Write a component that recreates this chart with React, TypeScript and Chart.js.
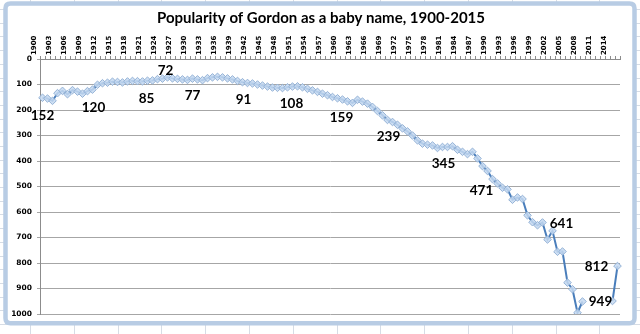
import React, { useEffect, useRef } from "react";
import { Chart, registerables } from "chart.js";

Chart.register(...registerables);

const TITLE = "Popularity of Gordon as a baby name, 1900-2015";

const YEARS: number[] = [];
for (let y = 1900; y <= 2015; y++) YEARS.push(y);

// Rank by year (null = outside the top 1000)
const RANK_1900s = [152, 155, 164, 134, 125, 138, 122, 128, 136, 126];
const RANK_1910s = [120, 101, 95, 93, 89, 90, 92, 88, 86, 87];
const RANK_1920s = [88, 85, 84, 79, 77, 72, 76, 78, 80, 82];
const RANK_1930s = [77, 80, 83, 75, 72, 70, 72, 76, 80, 86];
const RANK_1940s = [91, 94, 96, 100, 104, 108, 112, 113, 114, 111];
const RANK_1950s = [108, 107, 111, 117, 123, 129, 136, 142, 149, 154];
const RANK_1960s = [159, 166, 172, 160, 167, 175, 188, 204, 221, 239];
const RANK_1970s = [247, 258, 272, 284, 300, 319, 332, 336, 339, 349];
const RANK_1980s = [345, 345, 342, 356, 364, 373, 364, 390, 420, 439];
const RANK_1990s = [471, 488, 505, 511, 552, 543, 549, 613, 640, 652];
const RANK_2000s: (number | null)[] = [641, 708, 674, 756, 755, 877, 903, 995, 951, null];
const RANK_2010s: (number | null)[] = [null, null, null, null, 949, 812];

const RANKS: (number | null)[] = [
  ...RANK_1900s, ...RANK_1910s, ...RANK_1920s, ...RANK_1930s, ...RANK_1940s,
  ...RANK_1950s, ...RANK_1960s, ...RANK_1970s, ...RANK_1980s, ...RANK_1990s,
  ...RANK_2000s, ...RANK_2010s,
];

const LABELED_YEARS = [1900, 1910, 1921, 1925, 1930, 1940, 1950, 1960, 1969, 1980, 1990, 2000, 2014, 2015];

const Y_TICKS = [0, 100, 200, 300, 400, 500, 600, 700, 800, 900, 1000];

// label placement relative to its point (text centre offset)
const LABEL_OFFSET: Record<number, [number, number]> = {
  1900: [0, 18], 1910: [1, 18], 1921: [-1, 18], 1925: [-2, -7], 1930: [0, 17],
  1940: [1, 17], 1950: [-1, 17.5], 1960: [-1, 18], 1969: [1, 17], 1980: [1, 17],
  1990: [-11, 12], 2000: [19, 1], 2014: [-12, 0.5], 2015: [-21, 1],
};

const backgroundPlugin = {
  id: "excelBackground",
  beforeDraw(chart: any) {
    const ctx = chart.ctx;
    const w = chart.width, h = chart.height;
    ctx.save();
    ctx.fillStyle = "#ffffff";
    ctx.fillRect(0, 0, w, h);
    ctx.strokeStyle = "#d6dce5";
    ctx.lineWidth = 1;
    for (let x = 30; x < w; x += 43.8) {
      ctx.beginPath(); ctx.moveTo(Math.round(x) + 0.5, 0); ctx.lineTo(Math.round(x) + 0.5, h); ctx.stroke();
    }
    for (let y = 9; y < h; y += 13.7) {
      ctx.beginPath(); ctx.moveTo(0, Math.round(y) + 0.5); ctx.lineTo(w, Math.round(y) + 0.5); ctx.stroke();
    }
    // chart frame
    ctx.fillStyle = "#ffffff";
    ctx.strokeStyle = "#b8cce4";
    ctx.lineWidth = 4.5;
    const x0 = 5.5, y0 = 3.5, x1 = 634.5, y1 = 323.2, r = 5;
    ctx.beginPath();
    ctx.moveTo(x0 + r, y0);
    ctx.lineTo(x1 - r, y0); ctx.quadraticCurveTo(x1, y0, x1, y0 + r);
    ctx.lineTo(x1, y1 - r); ctx.quadraticCurveTo(x1, y1, x1 - r, y1);
    ctx.lineTo(x0 + r, y1); ctx.quadraticCurveTo(x0, y1, x0, y1 - r);
    ctx.lineTo(x0, y0 + r); ctx.quadraticCurveTo(x0, y0, x0 + r, y0);
    ctx.closePath();
    ctx.fill();
    ctx.stroke();
    // title
    ctx.fillStyle = "#000000";
    ctx.font = "bold 15px Lato";
    ctx.textAlign = "center";
    ctx.textBaseline = "middle";
    ctx.fillText(TITLE, 321, 18);
    ctx.restore();
  },
};

const labelPlugin = {
  id: "valueLabels",
  afterDatasetsDraw(chart: any) {
    const ctx = chart.ctx;
    const meta = chart.getDatasetMeta(0);
    ctx.save();
    ctx.font = "bold 13.5px Lato";
    ctx.fillStyle = "#000000";
    ctx.textAlign = "center";
    ctx.textBaseline = "middle";
    LABELED_YEARS.forEach((yr) => {
      const i = YEARS.indexOf(yr);
      const v = RANKS[i];
      const el = meta.data[i];
      if (v == null || !el) return;
      const [dx, dy] = LABEL_OFFSET[yr] || [0, 17];
      ctx.fillText(String(v), el.x + dx, el.y + dy);
    });
    ctx.restore();
  },
};

export default function App() {
  const ref = useRef<HTMLCanvasElement | null>(null);
  useEffect(() => {
    if (!ref.current) return;
    const chart = new Chart(ref.current, {
      type: "line",
      data: {
        labels: YEARS.map(String),
        datasets: [
          {
            data: RANKS,
            borderColor: "#4a7ebb",
            borderWidth: 2,
            pointStyle: "rectRot",
            pointRadius: 3.8,
            pointBackgroundColor: "rgba(198,217,241,0.85)",
            pointBorderColor: "#95b3d7",
            pointBorderWidth: 1,
            spanGaps: false,
            tension: 0,
          },
        ],
      },
      options: {
        responsive: false,
        animation: false,
        devicePixelRatio: 1,
        layout: { padding: { left: 0, right: 20, top: 0, bottom: 20 } },
        plugins: { legend: { display: false }, tooltip: { enabled: false }, title: { display: false } },
        scales: {
          x: {
            type: "category",
            position: "top",
            offset: true,
            afterFit: (s: any) => { s.height = 59; },
            grid: { display: true, drawOnChartArea: false, drawTicks: true, tickLength: 3, offset: true, color: "#8c8c8c" },
            border: { display: true, color: "#8c8c8c" },
            ticks: {
              autoSkip: false,
              minRotation: 90,
              maxRotation: 90,
              padding: 1,
              color: "#000000",
              font: { family: "DejaVu Sans", size: 7, weight: "bold" },
              callback: (_v: any, idx: number) => ((YEARS[idx] - 1900) % 3 === 0 ? String(YEARS[idx]) : ""),
            },
          },
          y: {
            reverse: true,
            min: 0,
            max: 1000,
            afterFit: (s: any) => { s.width = 40; },
            afterBuildTicks: (s: any) => { s.ticks = Y_TICKS.map((v) => ({ value: v })); },
            grid: { color: "#a6a6a6", drawTicks: true, tickLength: 3, lineWidth: 1 },
            border: { display: true, color: "#8c8c8c" },
            ticks: {
              padding: 5,
              color: "#000000",
              font: { family: "DejaVu Sans", size: 7.5, weight: "bold" },
              callback: (v: any) => String(v),
            },
          },
        },
      },
      plugins: [backgroundPlugin, labelPlugin],
    });
    return () => chart.destroy();
  }, []);
  return (
    <div style={{ position: "fixed", left: 0, top: 0, width: 640, height: 334 }}>
      <canvas ref={ref} width={640} height={334} style={{ display: "block" }} />
    </div>
  );
}
